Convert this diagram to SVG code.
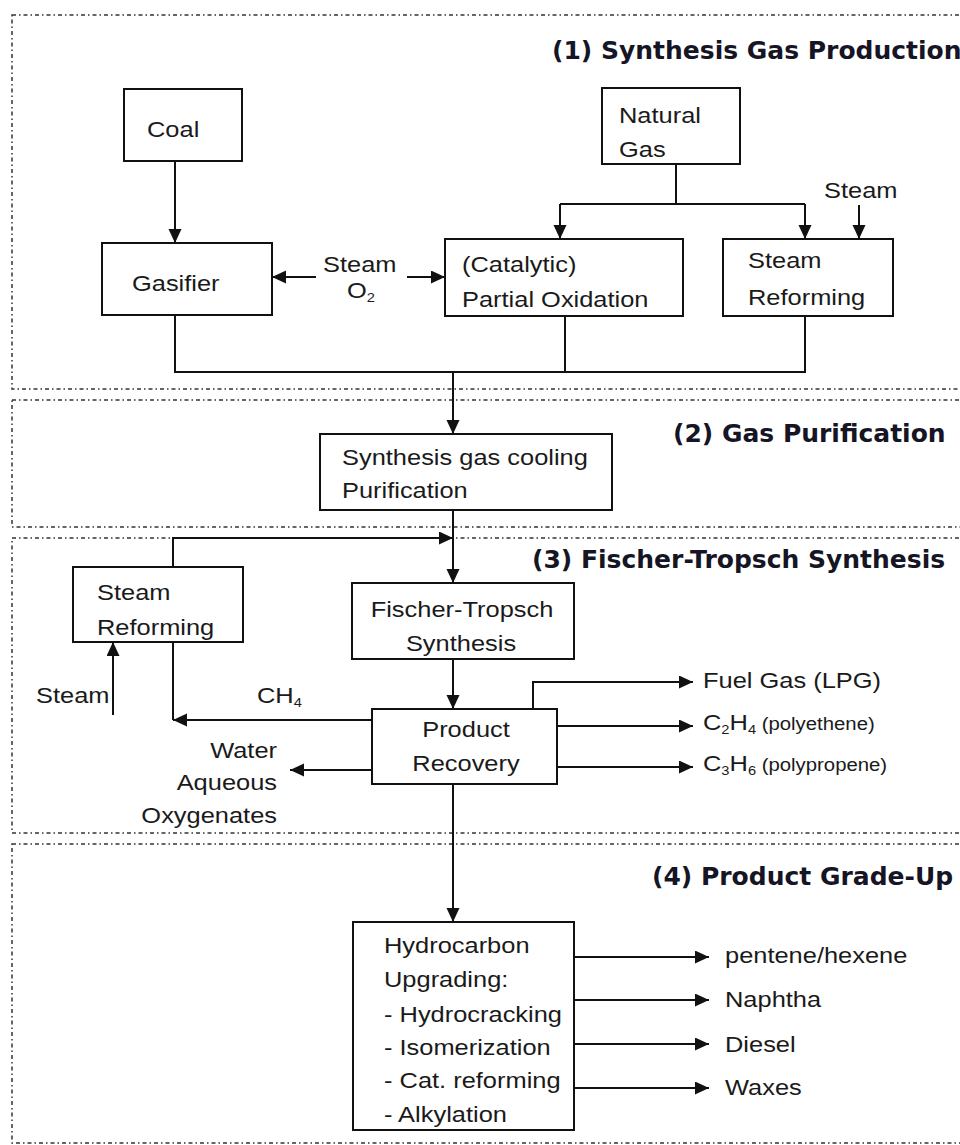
<svg xmlns="http://www.w3.org/2000/svg" width="960" height="1145" viewBox="0 0 960 1145">
<defs>
<marker id="arr" markerUnits="userSpaceOnUse" markerWidth="16" markerHeight="14" refX="14" refY="6.5" orient="auto">
<path d="M0,0 L14,6.5 L0,13 z" fill="#111"/>
</marker>
<style>
.sec{fill:none;stroke:#333;stroke-width:1.5;stroke-dasharray:4 3 1.5 3}
.box{fill:#fff;stroke:#111;stroke-width:2}
.ln{fill:none;stroke:#111;stroke-width:2}
.ar{fill:none;stroke:#111;stroke-width:2;marker-end:url(#arr)}
.t{font-family:"Liberation Sans",Arial,sans-serif;font-size:22.5px;fill:#1a1a1a}
.s{font-size:18px}
.sub{font-size:13px}
.h{font-family:"DejaVu Sans",Verdana,sans-serif;font-weight:bold;font-size:25px;fill:#151525}
</style>
</defs>
<rect width="960" height="1145" fill="#fff"/>

<g id="sections">
<rect class="sec" x="12" y="15" width="970" height="374"/>
<rect class="sec" x="12" y="400" width="970" height="127"/>
<rect class="sec" x="12" y="538" width="970" height="295"/>
<rect class="sec" x="12" y="844" width="970" height="299"/>
<text class="h" x="552" y="59">(1) Synthesis Gas Production</text>
<text class="h" x="673" y="442">(2) Gas Purification</text>
<text class="h" x="532" y="568">(3) Fischer-Tropsch Synthesis</text>
<text class="h" x="652" y="885">(4) Product Grade-Up</text>
</g>

<g id="connectors">
<line class="ar" x1="175" y1="161" x2="175" y2="243"/>
<line class="ln" x1="676" y1="164" x2="676" y2="204"/>
<line class="ln" x1="560" y1="204" x2="805" y2="204"/>
<line class="ar" x1="560" y1="204" x2="560" y2="239"/>
<line class="ar" x1="805" y1="204" x2="805" y2="239"/>
<line class="ar" x1="859" y1="205" x2="859" y2="239"/>
<line class="ar" x1="316" y1="277" x2="272" y2="277"/>
<line class="ar" x1="407" y1="277" x2="445" y2="277"/>
<polyline class="ln" points="175,315 175,372 805,372 805,316"/>
<line class="ln" x1="565" y1="316" x2="565" y2="372"/>
<line class="ar" x1="453" y1="372" x2="453" y2="434"/>
<line class="ar" x1="453" y1="510" x2="453" y2="583"/>
<polyline class="ar" points="173,567 173,538 453,538"/>
<line class="ar" x1="113" y1="715" x2="113" y2="642"/>
<line class="ln" x1="173" y1="642" x2="173" y2="720"/>
<line class="ar" x1="372" y1="720" x2="173" y2="720"/>
<line class="ar" x1="453" y1="659" x2="453" y2="709"/>
<line class="ar" x1="372" y1="770" x2="290" y2="770"/>
<polyline class="ar" points="533,709 533,682 693,682"/>
<line class="ar" x1="557" y1="726" x2="693" y2="726"/>
<line class="ar" x1="557" y1="767" x2="693" y2="767"/>
<line class="ar" x1="453" y1="784" x2="453" y2="922"/>
<line class="ar" x1="574" y1="957" x2="709" y2="957"/>
<line class="ar" x1="574" y1="1000" x2="709" y2="1000"/>
<line class="ar" x1="574" y1="1044" x2="709" y2="1044"/>
<line class="ar" x1="574" y1="1088" x2="709" y2="1088"/>
</g>

<g id="coal">
<rect class="box" x="124" y="89" width="118" height="72"/>
<text class="t" transform="matrix(1.13 0 0 1 147 137)">Coal</text>
</g>
<g id="natural-gas">
<rect class="box" x="602" y="88" width="138" height="76"/>
<text class="t" transform="matrix(1.13 0 0 1 619 123)">Natural</text>
<text class="t" transform="matrix(1.13 0 0 1 619 157)">Gas</text>
</g>
<g id="steam-top">
<text class="t" transform="matrix(1.13 0 0 1 824 198)">Steam</text>
</g>
<g id="gasifier">
<rect class="box" x="102" y="243" width="170" height="72"/>
<text class="t" transform="matrix(1.13 0 0 1 132 291)">Gasifier</text>
</g>
<g id="steam-o2">
<text class="t" transform="matrix(1.13 0 0 1 323 272)">Steam</text>
<text class="t" transform="matrix(1.13 0 0 1 347 298)">O<tspan class="sub" dy="4">2</tspan></text>
</g>
<g id="partial-oxidation">
<rect class="box" x="445" y="239" width="238" height="77"/>
<text class="t" transform="matrix(1.13 0 0 1 462 272)">(Catalytic)</text>
<text class="t" transform="matrix(1.13 0 0 1 462 307)">Partial Oxidation</text>
</g>
<g id="steam-reforming-1">
<rect class="box" x="723" y="239" width="170" height="77"/>
<text class="t" transform="matrix(1.13 0 0 1 748 268)">Steam</text>
<text class="t" transform="matrix(1.13 0 0 1 748 305)">Reforming</text>
</g>

<g id="gas-cooling">
<rect class="box" x="320" y="434" width="292" height="76"/>
<text class="t" transform="matrix(1.13 0 0 1 342 465)">Synthesis gas cooling</text>
<text class="t" transform="matrix(1.13 0 0 1 342 498)">Purification</text>
</g>

<g id="steam-reforming-2">
<rect class="box" x="73" y="567" width="170" height="75"/>
<text class="t" transform="matrix(1.13 0 0 1 97 600)">Steam</text>
<text class="t" transform="matrix(1.13 0 0 1 97 635)">Reforming</text>
</g>
<g id="steam-left">
<text class="t" transform="matrix(1.13 0 0 1 36 703)">Steam</text>
</g>
<g id="ch4">
<text class="t" transform="matrix(1.13 0 0 1 257 703)">CH<tspan class="sub" dy="4">4</tspan></text>
</g>
<g id="ft-synthesis">
<rect class="box" x="352" y="583" width="222" height="76"/>
<text class="t" text-anchor="middle" transform="matrix(1.13 0 0 1 462 617)">Fischer-Tropsch</text>
<text class="t" text-anchor="middle" transform="matrix(1.13 0 0 1 461 651)">Synthesis</text>
</g>
<g id="product-recovery">
<rect class="box" x="372" y="709" width="185" height="75"/>
<text class="t" text-anchor="middle" transform="matrix(1.13 0 0 1 466 737)">Product</text>
<text class="t" text-anchor="middle" transform="matrix(1.13 0 0 1 466 771)">Recovery</text>
</g>
<g id="water">
<text class="t" text-anchor="end" transform="matrix(1.13 0 0 1 277 758)">Water</text>
<text class="t" text-anchor="end" transform="matrix(1.13 0 0 1 277 790)">Aqueous</text>
<text class="t" text-anchor="end" transform="matrix(1.13 0 0 1 277 823)">Oxygenates</text>
</g>
<g id="fuel-gas">
<text class="t" transform="matrix(1.13 0 0 1 703 688)">Fuel Gas (LPG)</text>
</g>
<g id="c2h4">
<text class="t" transform="matrix(1.13 0 0 1 703 730)">C<tspan class="sub" dy="4">2</tspan><tspan dy="-4">H</tspan><tspan class="sub" dy="4">4</tspan><tspan class="s" dy="-4"> (polyethene)</tspan></text>
</g>
<g id="c3h6">
<text class="t" transform="matrix(1.13 0 0 1 703 771)">C<tspan class="sub" dy="4">3</tspan><tspan dy="-4">H</tspan><tspan class="sub" dy="4">6</tspan><tspan class="s" dy="-4"> (polypropene)</tspan></text>
</g>

<g id="hydrocarbon-upgrading">
<rect class="box" x="353" y="922" width="221" height="208"/>
<text class="t" transform="matrix(1.13 0 0 1 384 953)">Hydrocarbon</text>
<text class="t" transform="matrix(1.13 0 0 1 384 987)">Upgrading:</text>
<text class="t" transform="matrix(1.13 0 0 1 384 1022)">- Hydrocracking</text>
<text class="t" transform="matrix(1.13 0 0 1 384 1055)">- Isomerization</text>
<text class="t" transform="matrix(1.13 0 0 1 384 1088)">- Cat. reforming</text>
<text class="t" transform="matrix(1.13 0 0 1 384 1122)">- Alkylation</text>
</g>
<g id="pentene">
<text class="t" transform="matrix(1.13 0 0 1 725 963)">pentene/hexene</text>
</g>
<g id="naphtha">
<text class="t" transform="matrix(1.13 0 0 1 725 1007)">Naphtha</text>
</g>
<g id="diesel">
<text class="t" transform="matrix(1.13 0 0 1 725 1052)">Diesel</text>
</g>
<g id="waxes">
<text class="t" transform="matrix(1.13 0 0 1 725 1095)">Waxes</text>
</g>
</svg>
